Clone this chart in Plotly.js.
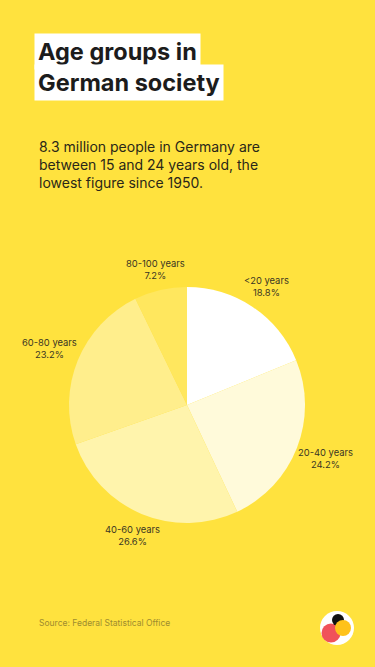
<!DOCTYPE html>
<html>
<head>
<meta charset="utf-8">
<script src="https://cdn.plot.ly/plotly-3.0.1.min.js"></script>
<style>
html,body{margin:0;padding:0;background:#FFE23E;}
#chart{width:375px;height:667px;}
</style>
</head>
<body>
<div id="chart"></div>
<script>
const categories = ["<20 years", "20-40 years", "40-60 years", "60-80 years", "80-100 years"];
const shares = [18.8, 24.2, 26.6, 23.2, 7.2];
const sliceColors = ["#FFFFFF", "#FFFADA", "#FFF4AC", "#FFEE8C", "#FFE75E"];

const W = 375, H = 667;
const px = x => x / W;
const py = y => 1 - y / H;

const cx = 187, cy = 405, r = 118;
const labelFont = {family: "Inter, sans-serif", size: 9.4, color: "#3a3523"};

const trace = {
  type: "pie",
  labels: categories,
  values: shares,
  sort: false,
  direction: "clockwise",
  rotation: 0,
  marker: {colors: sliceColors, line: {width: 0}},
  textinfo: "none",
  domain: {x: [px(cx - r), px(cx + r)], y: [py(cy + r), py(cy - r)]},
  automargin: false,
  showlegend: false,
  hoverinfo: "none"
};

// slice labels placed outside each slice at its mid-angle (derived from the data)
const total = shares.reduce((a, b) => a + b, 0);
const sliceLabels = [];
let cum = 0;
categories.forEach((cat, i) => {
  const mid = (cum + shares[i] / 2) / total * 2 * Math.PI;
  cum += shares[i];
  const s = Math.sin(mid), c = Math.cos(mid);
  const hw = 0.5 * cat.length * 4.6, hh = 13;
  const d = r + 2 + Math.abs(s) * hw + Math.abs(c) * hh;
  sliceLabels.push({
    xref: "paper", yref: "paper",
    x: px(cx + d * s), y: py(cy - d * c),
    xanchor: "center", yanchor: "middle", align: "center",
    text: cat + "<br>" + shares[i].toFixed(1) + "%",
    showarrow: false, font: labelFont
  });
});

function circ(x, y, rad, color) {
  return {type: "circle", xref: "paper", yref: "paper",
    x0: px(x - rad), x1: px(x + rad), y0: py(y + rad), y1: py(y - rad),
    fillcolor: color, line: {width: 0}, layer: "above"};
}

const layout = {
  width: W, height: H,
  margin: {l: 0, r: 0, t: 0, b: 0},
  paper_bgcolor: "#FFE23E",
  plot_bgcolor: "#FFE23E",
  showlegend: false,
  annotations: [
    {xref: "paper", yref: "paper", x: px(34), y: py(51), xanchor: "left", yanchor: "middle",
     text: "<b>Age groups in</b>", showarrow: false, bgcolor: "#FFFFFF", borderpad: 3,
     font: {family: "Inter, sans-serif", size: 23.5, color: "#1c1c1c"}},
    {xref: "paper", yref: "paper", x: px(34), y: py(83), xanchor: "left", yanchor: "middle",
     text: "<b>German society</b>", showarrow: false, bgcolor: "#FFFFFF", borderpad: 3,
     font: {family: "Inter, sans-serif", size: 23.5, color: "#1c1c1c"}},
    {xref: "paper", yref: "paper", x: px(37), y: py(136), xanchor: "left", yanchor: "top", align: "left",
     text: "8.3 million people in Germany are<br>between 15 and 24 years old, the<br>lowest figure since 1950.",
     showarrow: false,
     font: {family: "Inter, sans-serif", size: 14, color: "#2a2718"}},
    {xref: "paper", yref: "paper", x: px(37), y: py(623), xanchor: "left", yanchor: "middle",
     text: "Source: Federal Statistical Office", showarrow: false,
     font: {family: "Inter, sans-serif", size: 8.5, color: "#9E8C2E"}}
  ].concat(sliceLabels),
  shapes: [
    circ(337, 628, 17, "#FFFFFF"),
    circ(331, 633, 9.5, "#F0525A"),
    circ(338, 620, 6, "#111111"),
    circ(343, 628, 8, "#FFC21A")
  ]
};

Plotly.newPlot("chart", [trace], layout, {displayModeBar: false, staticPlot: true});
</script>
</body>
</html>
